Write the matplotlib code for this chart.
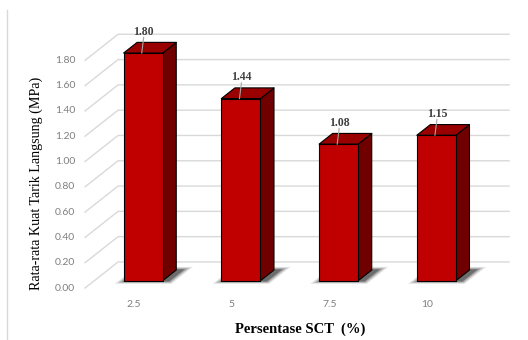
import numpy as np
import matplotlib.pyplot as plt
from matplotlib.patches import Polygon

categories = ['2.5', '5', '7.5', '10']
values = [1.80, 1.44, 1.08, 1.15]
value_labels = ['1.80', '1.44', '1.08', '1.15']
yticks = [0.0, 0.2, 0.4, 0.6, 0.8, 1.0, 1.2, 1.4, 1.6, 1.8]

# oblique 3d look (Excel style): depth vector in data units
DX, DY = 0.338, 0.206
D0, D1 = 0.28, 0.69
W = 0.40

front_c = '#C00000'
top_c = '#990000'
side_c = '#700000'
grid_c = '#D9D9D9'


def off(x, y, d):
    return (x + d * DX, y + d * DY)


fig = plt.figure(figsize=(5.28, 3.4), dpi=100)
ax = fig.add_axes([0, 0, 1, 1])
ax.set_xlim(-1.370, 4.032)
ax.set_ylim(-0.411, 2.277)
ax.axis('off')

# left border of chart area
fig.add_artist(plt.Line2D([7 / 528, 7 / 528], [0, 330 / 340], color=grid_c, lw=1))

# gridlines: side wall diagonals + back wall
x0 = -0.5
x1 = len(categories) - 0.5
for t in yticks:
    a = off(x0, t, 0)
    b = off(x0, t, 1)
    c = off(x1, t, 1)
    ax.plot([a[0], b[0], c[0]], [a[1], b[1], c[1]], color=grid_c, lw=1, zorder=1)
    ax.text(x0 - 0.1, t, f'{t:.2f}', ha='right', va='center', fontsize=7.5,
            color='#7F7F7F', family='Lato')

for i, lab in enumerate(categories):
    ax.text(i, -0.13, lab, ha='center', va='center', fontsize=7.5,
            color='#7F7F7F', family='Lato')

# bars
for i, v in enumerate(values):
    l, r = i - W / 2, i + W / 2
    # soft floor shadow
    for k, a in enumerate([0.10, 0.14, 0.2, 0.3]):
        e = 0.07 - k * 0.018
        ed = 0.12 - k * 0.03
        pts = [off(l - e + 0.02, 0, D0 - ed), off(r + e + 0.06, 0, D0 - ed),
               off(r + e + 0.06, 0, D1 + ed), off(l - e + 0.02, 0, D1 + ed)]
        ax.add_patch(Polygon(pts, closed=True, facecolor='black', edgecolor='none',
                             alpha=a, zorder=2))
    front = [off(l, 0, D0), off(r, 0, D0), off(r, v, D0), off(l, v, D0)]
    side = [off(r, 0, D0), off(r, 0, D1), off(r, v, D1), off(r, v, D0)]
    top = [off(l, v, D0), off(r, v, D0), off(r, v, D1), off(l, v, D1)]
    for pts, col in [(side, side_c), (top, top_c), (front, front_c)]:
        ax.add_patch(Polygon(pts, closed=True, facecolor=col, edgecolor='black',
                             lw=0.8, joinstyle='round', zorder=3))
    # data label with leader line
    lx = i + 0.10
    ly = v + D1 * DY + 0.085
    ex, ey = i + 0.08, v + D0 * DY
    ax.plot([lx, ex], [ly - 0.045, ey], color='#A6A6A6', lw=0.8, zorder=4)
    ax.text(lx, ly, value_labels[i], ha='center', va='center', fontsize=8.5,
            fontweight='bold', color='#404040', family='Liberation Serif', zorder=5)

ax.text(1.70, -0.324, 'Persentase SCT  (%)', ha='center', va='center', fontsize=10.5,
        fontweight='bold', color='black', family='Liberation Serif')
ax.text(-1.00, 0.83, 'Rata-rata Kuat Tarik Langsung (MPa)', ha='center', va='center',
        rotation=90, fontsize=10.1, color='black', family='Liberation Serif')

fig.savefig('out.png', dpi=100)
